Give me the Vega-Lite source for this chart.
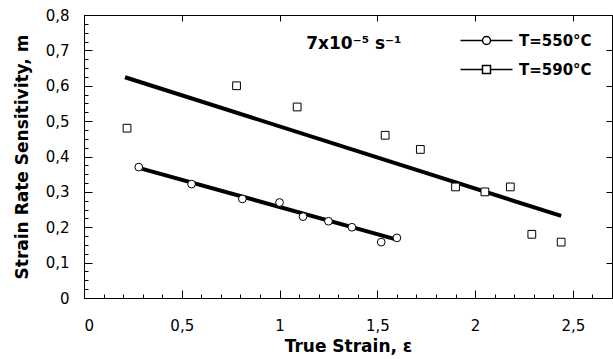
{
  "$schema": "https://vega.github.io/schema/vega-lite/v6.json",
  "width": 528,
  "height": 283,
  "autosize": {"type": "none"},
  "padding": {"left": 84, "top": 15, "right": 1, "bottom": 61},
  "background": "white",
  "config": {
    "view": {"stroke": "black", "strokeWidth": 1},
    "font": "DejaVu Sans",
    "axis": {"domainColor": "black", "tickColor": "black", "grid": false, "labelColor": "black", "titleColor": "black", "labelFont": "DejaVu Sans", "titleFont": "DejaVu Sans"}
  },
  "datasets": {
    "pts": [
      {"strain": 0.28, "m": 0.37, "series": "T=550°C"},
      {"strain": 0.55, "m": 0.322, "series": "T=550°C"},
      {"strain": 0.81, "m": 0.28, "series": "T=550°C"},
      {"strain": 1.0, "m": 0.27, "series": "T=550°C"},
      {"strain": 1.12, "m": 0.23, "series": "T=550°C"},
      {"strain": 1.25, "m": 0.217, "series": "T=550°C"},
      {"strain": 1.37, "m": 0.2, "series": "T=550°C"},
      {"strain": 1.52, "m": 0.158, "series": "T=550°C"},
      {"strain": 1.6, "m": 0.17, "series": "T=550°C"},
      {"strain": 0.22, "m": 0.48, "series": "T=590°C"},
      {"strain": 0.78, "m": 0.6, "series": "T=590°C"},
      {"strain": 1.09, "m": 0.54, "series": "T=590°C"},
      {"strain": 1.54, "m": 0.46, "series": "T=590°C"},
      {"strain": 1.72, "m": 0.42, "series": "T=590°C"},
      {"strain": 1.9, "m": 0.314, "series": "T=590°C"},
      {"strain": 2.05, "m": 0.3, "series": "T=590°C"},
      {"strain": 2.18, "m": 0.314, "series": "T=590°C"},
      {"strain": 2.29, "m": 0.18, "series": "T=590°C"},
      {"strain": 2.44, "m": 0.158, "series": "T=590°C"}
    ],
    "fits": [
      {"strain": 0.28, "m": 0.368, "series": "T=550°C"},
      {"strain": 1.6, "m": 0.165, "series": "T=550°C"},
      {"strain": 0.21, "m": 0.624, "series": "T=590°C"},
      {"strain": 2.44, "m": 0.232, "series": "T=590°C"}
    ],
    "notes": [
      {"strain": 1.38, "m": 0.718, "label": "7x10⁻⁵ s⁻¹"}
    ]
  },
  "layer": [
    {
      "data": {"name": "fits"},
      "mark": {"type": "line", "color": "black", "strokeWidth": 4},
      "encoding": {
        "x": {
          "field": "strain", "type": "quantitative",
          "scale": {"domain": [0, 2.7], "nice": false, "zero": false},
          "axis": {
            "orient": "bottom",
            "values": [0, 0.5, 1, 1.5, 2, 2.5],
            "labelExpr": "replace(format(datum.value, '~g'), '.', ',')",
            "tickSize": -8, "labelPadding": 28,
            "labelFontSize": 15,
            "title": "True Strain, ε", "titleFontSize": 17, "titleFontWeight": "bold",
            "titlePadding": 5, "domain": true
          }
        },
        "y": {
          "field": "m", "type": "quantitative",
          "scale": {"domain": [0, 0.8], "nice": false, "zero": false},
          "axis": {
            "orient": "left",
            "values": [0, 0.1, 0.2, 0.3, 0.4, 0.5, 0.6, 0.7, 0.8],
            "labelExpr": "replace(format(datum.value, '~g'), '.', ',')",
            "tickSize": -8, "labelPadding": 23,
            "labelFontSize": 15,
            "title": "Strain Rate Sensitivity, m", "titleFontSize": 17, "titleFontWeight": "bold",
            "titlePadding": 14
          }
        },
        "detail": {"field": "series"}
      }
    },
    {
      "data": {"name": "fits"},
      "mark": {"type": "point", "opacity": 0, "filled": true, "fill": "white", "stroke": "black"},
      "encoding": {
        "x": {"field": "strain", "type": "quantitative", "axis": null},
        "y": {"field": "m", "type": "quantitative", "axis": null},
        "shape": {
          "field": "series", "type": "nominal",
          "scale": {"domain": ["T=550°C", "T=590°C"], "range": ["M-6.5,0H-1M1,0H6.5M1,0A1,1,0,1,1,-1,0A1,1,0,1,1,1,0Z", "M-6.5,0H-1M1,0H6.5M-1,-1H1V1H-1Z"]},
          "legend": {
            "orient": "none", "legendX": 395, "legendY": 18,
            "title": null,
            "symbolSize": 64,
            "labelFontSize": 15, "labelFontWeight": "bold", "labelFont": "DejaVu Sans", "labelColor": "black", "labelOffset": 25, "rowPadding": 13,
            "encode": {
              "symbols": {
                "update": {
                  "stroke": {"value": "black"},
                  "fill": {"value": "white"},
                  "strokeWidth": {"value": 2},
                  "opacity": {"value": 1}
                }
              }
            }
          }
        }
      }
    },
    {
      "data": {"name": "pts"},
      "mark": {"type": "point", "filled": true, "fill": "white", "stroke": "black", "strokeWidth": 1, "opacity": 1},
      "encoding": {
        "x": {
          "field": "strain", "type": "quantitative",
          "axis": {
            "orient": "bottom", "values": [0.1, 0.2, 0.3, 0.4, 0.6, 0.7, 0.8, 0.9, 1.1, 1.2, 1.3, 1.4, 1.6, 1.7, 1.8, 1.9, 2.1, 2.2, 2.3, 2.4, 2.6],
            "labels": false, "title": null, "domain": false, "tickSize": -4
          }
        },
        "y": {
          "field": "m", "type": "quantitative",
          "axis": {
            "orient": "left", "values": [0.025, 0.05, 0.075, 0.125, 0.15, 0.175, 0.225, 0.25, 0.275, 0.325, 0.35, 0.375, 0.425, 0.45, 0.475, 0.525, 0.55, 0.575, 0.625, 0.65, 0.675, 0.725, 0.75, 0.775],
            "labels": false, "title": null, "domain": false, "tickSize": -4
          }
        },
        "shape": {
          "field": "series", "type": "nominal",
          "scale": {"domain": ["T=550°C", "T=590°C"], "range": ["circle", "square"]},
          "legend": null
        },
        "size": {"value": 60}
      }
    },
    {
      "data": {"name": "notes"},
      "mark": {"type": "text", "font": "DejaVu Sans", "fontWeight": "bold", "fontSize": 17, "align": "center", "baseline": "middle", "color": "black"},
      "encoding": {
        "x": {
          "field": "strain", "type": "quantitative",
          "axis": {"orient": "top", "values": [0, 0.5, 1, 1.5, 2, 2.5], "labels": false, "title": null, "tickSize": -6, "domain": false}
        },
        "y": {
          "field": "m", "type": "quantitative",
          "axis": {"orient": "right", "values": [0, 0.1, 0.2, 0.3, 0.4, 0.5, 0.6, 0.7, 0.8], "labels": false, "title": null, "tickSize": -6, "domain": false}
        },
        "text": {"field": "label"}
      }
    }
  ],
  "resolve": {"axis": {"x": "independent", "y": "independent"}, "scale": {"shape": "independent"}}
}
